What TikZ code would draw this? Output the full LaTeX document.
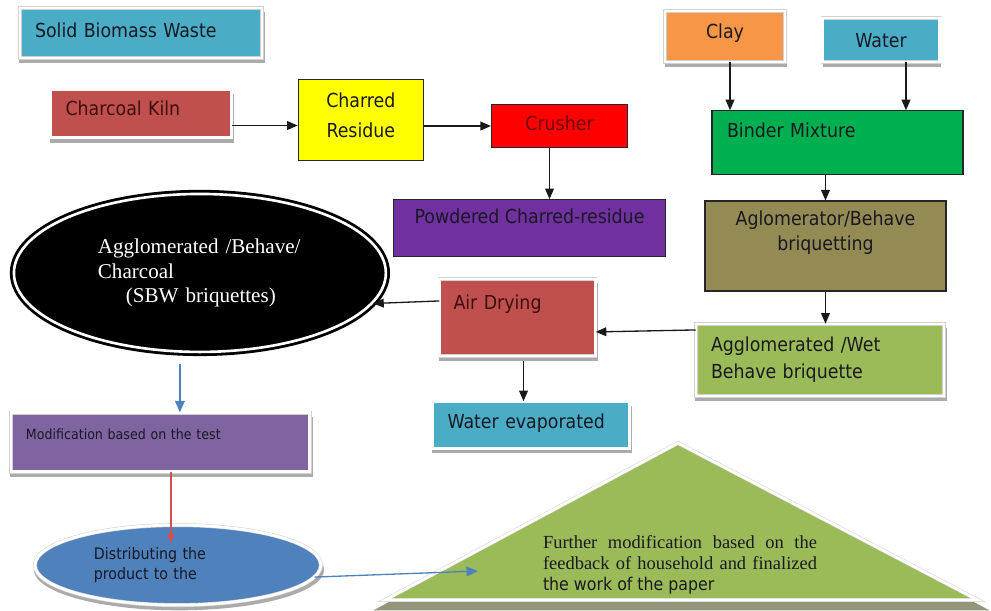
\documentclass[tikz,border=0pt]{standalone}
\usepackage{fontspec}
\setmainfont{Liberation Serif}
\newfontfamily\sbwsans{DejaVu Sans Condensed}
\usepackage{tikz}
\usetikzlibrary{arrows.meta, positioning, shapes.geometric, shadows}
\definecolor{tealfill}{RGB}{75,172,198}
\definecolor{kilnfill}{RGB}{192,80,77}
\definecolor{charfill}{RGB}{255,255,0}
\definecolor{crushfill}{RGB}{255,0,0}
\definecolor{powderfill}{RGB}{112,48,160}
\definecolor{clayfill}{RGB}{247,150,70}
\definecolor{binderfill}{RGB}{0,176,80}
\definecolor{aglofill}{RGB}{148,138,84}
\definecolor{wetfill}{RGB}{155,187,89}
\definecolor{modiffill}{RGB}{128,100,162}
\definecolor{distfill}{RGB}{79,129,189}
\definecolor{darktext}{RGB}{25,25,35}
\definecolor{kilntext}{RGB}{60,15,15}
\definecolor{crushtext}{RGB}{110,0,0}
\definecolor{redline}{RGB}{210,80,80}
\definecolor{trishade}{RGB}{150,150,125}

\newcommand{\boxfont}{\sbwsans\fontsize{11}{15}\selectfont}

\begin{document}
\begin{tikzpicture}[
    x=0.02cm, y=-0.02cm,
    halo/.style={draw=black!18, line width=0.3pt, double=white, double distance=1.6pt},
    glow/.style={halo, drop shadow={shadow xshift=0.6pt, shadow yshift=-2.6pt, shadow scale=1.015, fill=black!60, opacity=0.55}},
    lined/.style={draw=black!85, line width=0.7pt},
    stage/.style={rectangle, inner xsep=0.3cm, inner ysep=0pt, align=left, font=\boxfont, text=darktext},
    cstage/.style={rectangle, inner sep=0pt, align=center, font=\boxfont, text=darktext},
    arrow/.style={-{Triangle[length=6pt, width=5pt]}, line width=0.75pt, black!90},
    bluearrow/.style={-{Triangle[length=6.5pt, width=5.5pt]}, line width=0.75pt, distfill},
    redarrow/.style={-{Triangle[length=5pt, width=4pt]}, line width=0.7pt, redline}
]
    \useasboundingbox (0,0) rectangle (991,610);

    % Nodes - charcoal line
    \node[stage, glow, fill=tealfill, text width=4.24cm, minimum height=1cm, text height=8pt, text depth=3.4pt] (sbw) at (141,33) {Solid Biomass Waste};
    \node[stage, glow, fill=kilnfill, text=kilntext, text width=3.02cm, minimum height=0.96cm, text height=8pt, text depth=5.8pt, below=0.62cm of sbw] (kiln) {Charcoal Kiln};
    \node[cstage, lined, fill=charfill, minimum width=2.5cm, minimum height=1.62cm, font=\sbwsans\fontsize{11}{17}\selectfont, text height=25pt, text depth=5.2pt, right=1.32cm of kiln, yshift=-0.13cm] (char) {Charred\\Residue};
    \node[cstage, lined, fill=crushfill, text=crushtext, minimum width=2.72cm, minimum height=0.86cm, text height=8pt, text depth=2.9pt, right=1.34cm of char, yshift=-0.12cm] (crusher) {Crusher};
    \node[cstage, lined, fill=powderfill, minimum width=5.44cm, minimum height=1.14cm, text height=8pt, text depth=13.1pt, below=1.02cm of crusher, xshift=-0.6cm] (powder) {Powdered Charred-residue};

    % Nodes - binder line
    \node[cstage, glow, fill=clayfill, minimum width=2.4cm, minimum height=1.02cm, text height=8pt, text depth=6.3pt] (clay) at (725,36.5) {Clay};
    \node[cstage, glow, fill=tealfill, minimum width=2.34cm, minimum height=0.88cm, text height=8pt, text depth=0pt, right=0.74cm of clay, yshift=-0.07cm] (water) {Water};
    \node[stage, lined, fill=binderfill, text width=4.42cm, minimum height=1.28cm, text height=8pt, text depth=13.7pt, below=0.96cm of clay, xshift=2.25cm] (binder) {Binder Mixture};
    \node[cstage, lined, fill=aglofill, minimum width=4.82cm, minimum height=1.8cm, font=\sbwsans\fontsize{11}{14.2}\selectfont, text height=22.2pt, text depth=17pt, below=0.5cm of binder, xshift=-0.24cm] (aglo) {Aglomerator/Behave\\briquetting};
    \node[stage, glow, fill=wetfill, text width=4.36cm, minimum height=1.44cm, font=\sbwsans\fontsize{11}{15.3}\selectfont, below=0.64cm of aglo, xshift=-0.11cm] (wet) {Agglomerated /Wet\\Behave briquette};

    % Nodes - drying and product line
    \node[stage, glow, fill=kilnfill, text=kilntext, inner xsep=0.28cm, text width=2.56cm, minimum height=1.54cm, text height=8pt, text depth=16.5pt, left=2.0cm of wet, yshift=0.85cm] (air) {Air Drying};
    \node[stage, glow, fill=tealfill, text width=3.34cm, minimum height=0.94cm, text height=8pt, text depth=4pt, below=0.9cm of air, xshift=0.27cm] (evap) {Water evaporated};
    \node[ellipse, draw=black, line width=1.6pt, double=white, double distance=1.5pt, fill=black, text=white, text width=4.08cm, align=left, font=\rmfamily\fontsize{12}{14.2}\selectfont, minimum width=7.44cm, minimum height=3.16cm, left=1.04cm of air, yshift=0.89cm] (briq) {Agglomerated /Behave/\\Charcoal\\\hspace*{0.56cm}(SBW briquettes)};
    \node[stage, glow, fill=modiffill, font=\sbwsans\fontsize{8}{10}\selectfont, text width=5.38cm, minimum height=1.18cm, text height=6pt, text depth=8.8pt, below=1.18cm of briq, xshift=-0.79cm] (modif) {Modification based on the test};
    \node[ellipse, glow, fill=distfill, text=darktext, text width=3.36cm, align=left, font=\sbwsans\fontsize{9}{11.9}\selectfont, minimum width=5.72cm, minimum height=1.6cm, below=1.06cm of modif, xshift=0.35cm] (distrib) {Distributing the\\product to the};

    % Feedback triangle
    \path[halo, fill=wetfill, drop shadow={shadow scale=1.04, shadow xshift=0pt, shadow yshift=-4pt, fill=trishade, opacity=1}] (385,600) -- (678,443) -- (978,600) -- cycle;
    \coordinate (tripoint) at (478,571);
    \node[align=left, inner sep=0pt, text=darktext, font=\rmfamily\fontsize{10.5}{11.9}\selectfont] (further) at (680,565) {\makebox[5.48cm][s]{Further modification based on the}\\\makebox[5.48cm][s]{feedback of household and finalized}\\{\sbwsans\fontsize{10}{11.9}\selectfont the work of the paper}};

    % Arrows
    \draw[arrow] ([yshift=-0.24cm]kiln.east) -- ([yshift=-0.24cm]kiln.east -| char.west);
    \draw[arrow] (crusher.west -| char.east) -- (crusher.west);
    \draw[arrow] ([xshift=-0.2cm]crusher.south) -- ([xshift=-0.2cm]crusher.south |- powder.north);
    \draw[arrow] ([xshift=0.1cm]clay.south) -- ([xshift=0.1cm]clay.south |- binder.north);
    \draw[arrow] ([xshift=0.5cm]water.south) -- ([xshift=0.5cm]water.south |- binder.north);
    \draw[arrow] (aglo.north |- binder.south) -- (aglo.north);
    \draw[arrow] (aglo.south) -- (aglo.south |- wet.north);
    \draw[arrow] ([yshift=0.6cm]wet.west) -- ([yshift=-0.29cm]air.east);
    \draw[arrow] ([yshift=0.33cm]air.west) -- (briq.-10);
    \draw[arrow, shorten <=3pt] ([xshift=0.12cm]air.south) -- ([xshift=0.12cm]air.south |- evap.north);
    \draw[bluearrow, shorten <=6pt] ([xshift=-0.4cm]briq.south) -- ([xshift=-0.4cm]briq.south |- modif.north);
    \draw[redarrow] ([xshift=0.21cm]modif.south) -- ([xshift=-0.14cm, yshift=-0.36cm]distrib.north);
    \draw[bluearrow] (distrib.-5) -- (tripoint);
\end{tikzpicture}
\end{document}
